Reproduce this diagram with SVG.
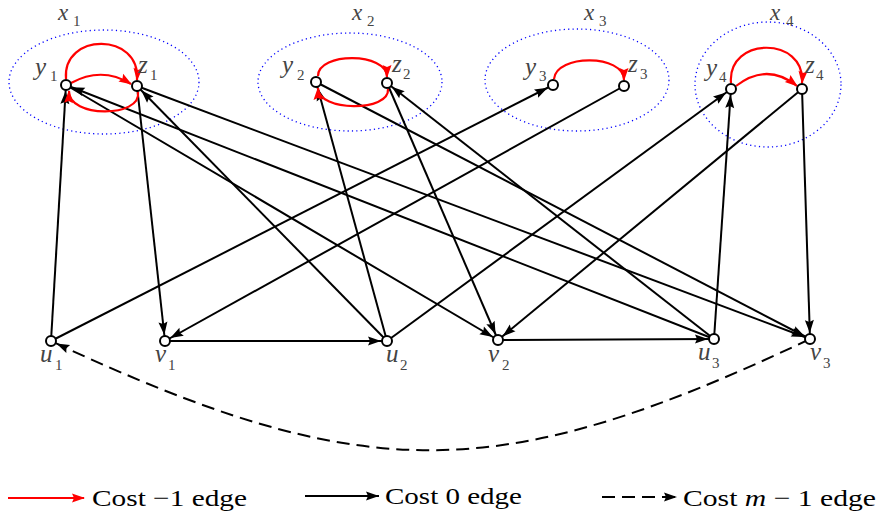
<svg xmlns="http://www.w3.org/2000/svg" width="880" height="520" viewBox="0 0 880 520">
<style>
.ell{fill:none;stroke:#0000ff;stroke-width:1.3;stroke-dasharray:1.2 3.2}
.e{fill:none;stroke:#000;stroke-width:2}
.r{fill:none;stroke:#ff0000;stroke-width:2.2}
.d{fill:none;stroke:#000;stroke-width:2;stroke-dasharray:13 7}
.n{fill:#fff;stroke:#000;stroke-width:2}
.lbl{font-family:"Liberation Serif",serif;font-style:italic;font-size:25px;fill:#444}
.top{font-size:23px}
.sub{font-style:normal;font-size:15px}
.leg{font-family:"Liberation Serif",serif;font-size:24px;fill:#000}
</style>
<defs>
<marker id="ah" markerUnits="userSpaceOnUse" markerWidth="20" markerHeight="10" refX="19" refY="4.5" orient="auto" overflow="visible">
<path d="M0,0 L13,4.5 L0,9 L2,4.5 z" fill="#000"/>
</marker>
<marker id="at" markerUnits="userSpaceOnUse" markerWidth="14" markerHeight="10" refX="13" refY="4.5" orient="auto" overflow="visible">
<path d="M0,0 L13,4.5 L0,9 L2,4.5 z" fill="#000"/>
</marker>
<marker id="ar" markerUnits="userSpaceOnUse" markerWidth="14" markerHeight="10" refX="12" refY="4.5" orient="auto" overflow="visible">
<path d="M0,0 L13,4.5 L0,9 L2,4.5 z" fill="#ff0000"/>
</marker>
</defs>
<g id="clusters">
<ellipse class="ell" cx="104" cy="82" rx="95" ry="52"/>
<ellipse class="ell" cx="350" cy="82" rx="92" ry="49"/>
<ellipse class="ell" cx="577" cy="80" rx="92" ry="51"/>
<ellipse class="ell" cx="768" cy="84.5" rx="73" ry="62.5"/>
<text class="lbl top" x="58" y="20">x<tspan class="sub" x="73" y="26">1</tspan></text>
<text class="lbl top" x="352" y="20">x<tspan class="sub" x="367" y="26">2</tspan></text>
<text class="lbl top" x="584" y="20">x<tspan class="sub" x="599" y="26">3</tspan></text>
<text class="lbl top" x="770" y="20">x<tspan class="sub" x="786" y="26">4</tspan></text>
</g>
<g id="connectors">
<path class="e" d="M51 341 L66 85" marker-end="url(#ah)"/>
<path class="e" d="M51 341 L553 85" marker-end="url(#ah)"/>
<path class="e" d="M137 86 L165 341" marker-end="url(#ah)"/>
<path class="e" d="M624 86 L165 341" marker-end="url(#ah)"/>
<path class="e" d="M165 341 L387 341" marker-end="url(#ah)"/>
<path class="e" d="M387 341 L316 82" marker-end="url(#ah)"/>
<path class="e" d="M387 341 L137 86" marker-end="url(#ah)"/>
<path class="e" d="M387 341 L731 89" marker-end="url(#ah)"/>
<path class="e" d="M387 83 L498 340" marker-end="url(#ah)"/>
<path class="e" d="M802 89 L498 340" marker-end="url(#ah)"/>
<path class="e" d="M66 85 L498 340" marker-end="url(#ah)"/>
<path class="e" d="M498 340 L714 339" marker-end="url(#ah)"/>
<path class="e" d="M714 339 L731 89" marker-end="url(#ah)"/>
<path class="e" d="M714 339 L66 85" marker-end="url(#ah)"/>
<path class="e" d="M714 339 L387 83" marker-end="url(#ah)"/>
<path class="e" d="M316 82 L810 339" marker-end="url(#ah)"/>
<path class="e" d="M137 86 L810 339" marker-end="url(#ah)"/>
<path class="e" d="M802 89 L810 339" marker-end="url(#ah)"/>
<path class="d" d="M810 339 C 497 487, 364 487, 51 341" marker-end="url(#ah)"/>
<path class="r" d="M66 79 C 62 32, 141 32, 137 80" marker-end="url(#ar)"/>
<path class="r" d="M71 83 Q 102 66 131 84" marker-end="url(#ar)"/>
<path class="r" d="M138 92 C 142 118, 68 118, 69 91" marker-end="url(#ar)"/>
<path class="r" d="M318 76 C 318 52, 387 52, 387 77" marker-end="url(#ar)"/>
<path class="r" d="M388 89 C 390 112, 318 112, 318 88" marker-end="url(#ar)"/>
<path class="r" d="M554 79 C 556 54, 624 54, 624 80" marker-end="url(#ar)"/>
<path class="r" d="M731 83 C 727 36, 806 36, 802 83" marker-end="url(#ar)"/>
<path class="r" d="M736 86 Q 767 62 797 86" marker-end="url(#ar)"/>
</g>
<g id="y1"><circle class="n" cx="66" cy="85" r="5"/><text class="lbl" x="35" y="75">y<tspan class="sub" x="50" y="81">1</tspan></text></g>
<g id="z1"><circle class="n" cx="137" cy="86" r="5"/><text class="lbl" x="138" y="73">z<tspan class="sub" x="150" y="80">1</tspan></text></g>
<g id="y2"><circle class="n" cx="316" cy="82" r="5"/><text class="lbl" x="282" y="73">y<tspan class="sub" x="297" y="80">2</tspan></text></g>
<g id="z2"><circle class="n" cx="387" cy="83" r="5"/><text class="lbl" x="392" y="72">z<tspan class="sub" x="403" y="79">2</tspan></text></g>
<g id="y3"><circle class="n" cx="553" cy="85" r="5"/><text class="lbl" x="525" y="75">y<tspan class="sub" x="539" y="81">3</tspan></text></g>
<g id="z3"><circle class="n" cx="624" cy="86" r="5"/><text class="lbl" x="628" y="72">z<tspan class="sub" x="640" y="79">3</tspan></text></g>
<g id="y4"><circle class="n" cx="731" cy="89" r="5"/><text class="lbl" x="706" y="76">y<tspan class="sub" x="719" y="82">4</tspan></text></g>
<g id="z4"><circle class="n" cx="802" cy="89" r="5"/><text class="lbl" x="805" y="73">z<tspan class="sub" x="816" y="80">4</tspan></text></g>
<g id="u1"><circle class="n" cx="51" cy="341" r="5"/><text class="lbl" x="40" y="362">u<tspan class="sub" x="55" y="370">1</tspan></text></g>
<g id="v1"><circle class="n" cx="165" cy="341" r="5"/><text class="lbl" x="155" y="362">v<tspan class="sub" x="168" y="370">1</tspan></text></g>
<g id="u2"><circle class="n" cx="387" cy="341" r="5"/><text class="lbl" x="386" y="362">u<tspan class="sub" x="400" y="370">2</tspan></text></g>
<g id="v2"><circle class="n" cx="498" cy="340" r="5"/><text class="lbl" x="488" y="362">v<tspan class="sub" x="502" y="370">2</tspan></text></g>
<g id="u3"><circle class="n" cx="714" cy="339" r="5"/><text class="lbl" x="698" y="360">u<tspan class="sub" x="712" y="368">3</tspan></text></g>
<g id="v3"><circle class="n" cx="810" cy="339" r="5"/><text class="lbl" x="810" y="360">v<tspan class="sub" x="823" y="368">3</tspan></text></g>
<g id="legend">
<path class="r" d="M8 498 L84 498" stroke-width="2.5" marker-end="url(#ar)"/>
<text class="leg" x="92" y="506" textLength="155" lengthAdjust="spacingAndGlyphs">Cost −1 edge</text>
<path class="e" d="M305 496 L379 496" stroke-width="2.5" marker-end="url(#at)"/>
<text class="leg" x="385" y="504" textLength="137" lengthAdjust="spacingAndGlyphs">Cost 0 edge</text>
<path class="d" d="M602 497 L677 497" stroke-width="2.5" stroke-dasharray="10 6" marker-end="url(#at)"/>
<text class="leg" x="683" y="506" textLength="193" lengthAdjust="spacingAndGlyphs">Cost <tspan font-style="italic">m</tspan> − 1 edge</text>
</g>
</svg>
